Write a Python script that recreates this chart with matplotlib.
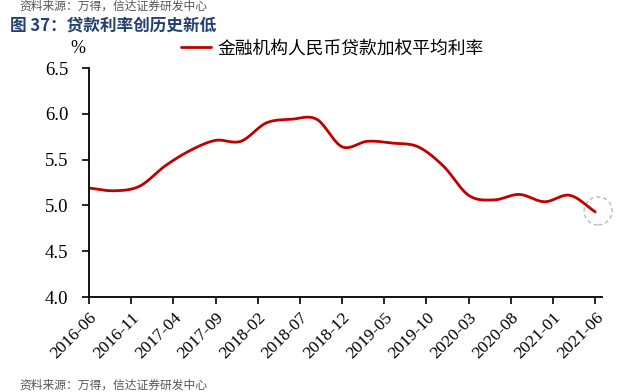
import numpy as np
import matplotlib.pyplot as plt
from matplotlib.patches import Ellipse

plt.rcParams['font.family'] = ['Liberation Serif', 'Noto Sans CJK SC']

# quarterly weighted average loan rate (%), 2016-06 .. 2021-06
quarters = ['2016-06', '2016-09', '2016-12', '2017-03', '2017-06', '2017-09',
            '2017-12', '2018-03', '2018-06', '2018-09', '2018-12', '2019-03',
            '2019-06', '2019-09', '2019-12', '2020-03', '2020-06', '2020-09',
            '2020-12', '2021-03', '2021-06']
rate = [5.19, 5.16, 5.21, 5.43, 5.60, 5.71, 5.70, 5.90, 5.94, 5.94, 5.64, 5.70,
        5.68, 5.64, 5.43, 5.11, 5.06, 5.12, 5.04, 5.11, 4.93]
tick_labels = ['2016-06', '2016-11', '2017-04', '2017-09', '2018-02', '2018-07',
               '2018-12', '2019-05', '2019-10', '2020-03', '2020-08', '2021-01',
               '2021-06']
series_name = '金融机构人民币贷款加权平均利率'


def month_index(s):
    y, m = s.split('-')
    return (int(y) - 2016) * 12 + int(m) - 6


def smooth(x, y, n=20):
    # Catmull-Rom curve through the points, like a smoothed line
    x = np.asarray(x, float)
    y = np.asarray(y, float)
    px = np.concatenate([[2 * x[0] - x[1]], x, [2 * x[-1] - x[-2]]])
    py = np.concatenate([[2 * y[0] - y[1]], y, [2 * y[-1] - y[-2]]])
    xs, ys = [], []
    t = np.linspace(0, 1, n, endpoint=False)
    for i in range(1, len(px) - 2):
        for p, out in ((px, xs), (py, ys)):
            p0, p1, p2, p3 = p[i - 1], p[i], p[i + 1], p[i + 2]
            out.extend(0.5 * (2 * p1 + (-p0 + p2) * t
                              + (2 * p0 - 5 * p1 + 4 * p2 - p3) * t ** 2
                              + (-p0 + 3 * p1 - 3 * p2 + p3) * t ** 3))
    xs.append(x[-1])
    ys.append(y[-1])
    return np.array(xs), np.array(ys)


xq = [month_index(q) for q in quarters]
xt = [month_index(t) for t in tick_labels]
sx, sy = smooth(xq, rate)

fig = plt.figure(figsize=(6.39, 3.92), dpi=100)
ax = fig.add_axes([0.1393, 0.2423, 0.8027, 0.5842])

line, = ax.plot(sx, sy, color='#C00000', lw=2.0, solid_capstyle='round',
                label=series_name)

xmax, ymin, ymax = 60.8, 4.0, 6.5
ax.set_xlim(0, xmax)
ax.set_ylim(ymin, ymax)
ax.set_yticks(np.arange(4.0, 6.51, 0.5))
ax.set_yticklabels([f'{v:.1f}' for v in np.arange(4.0, 6.51, 0.5)], fontsize=13.5)
ax.set_xticks(xt)
ax.set_xticklabels(tick_labels, rotation=45, ha='right', rotation_mode='anchor',
                   fontsize=12.5)
ax.tick_params(axis='both', direction='out', length=5, width=1.2, color='black')
ax.tick_params(axis='y', pad=10)
ax.tick_params(axis='x', pad=4)
for s in ['top', 'right']:
    ax.spines[s].set_visible(False)
for s in ['left', 'bottom']:
    ax.spines[s].set_linewidth(1.3)

# dashed circle (round on screen) around the latest point
bbox = ax.get_position()
px_w = bbox.width * fig.get_figwidth() * fig.dpi
px_h = bbox.height * fig.get_figheight() * fig.dpi
r_px = 14
ax.add_patch(Ellipse((xq[-1] + 0.35, rate[-1] + 0.01),
                     2 * r_px * xmax / px_w, 2 * r_px * (ymax - ymin) / px_h,
                     fill=False, ls=(0, (3, 2)), ec='#BBBBBB', lw=1.0,
                     clip_on=False))

fig.text(0.122, 0.877, '%', fontsize=13, ha='center', va='center')
ax.legend(handles=[line], loc='center left', bbox_to_anchor=(0.148, 1.085),
          frameon=False, handlelength=1.7, handletextpad=0.35,
          prop={'family': 'Noto Sans CJK SC', 'size': 12.8})

fig.text(0.016, 0.936, '图 37：贷款利率创历史新低', fontsize=12, fontweight='bold',
         color='#24406E', family='Noto Sans CJK SC', va='center')
fig.text(0.03, 0.985, '资料来源：万得，信达证券研发中心', fontsize=8.5, color='#555555',
         family='Noto Sans CJK SC', va='center', style='italic')
fig.text(0.03, 0.018, '资料来源：万得，信达证券研发中心', fontsize=8.5, color='#555555',
         family='Noto Sans CJK SC', va='center', style='italic')

fig.savefig('out.png', dpi=100)
